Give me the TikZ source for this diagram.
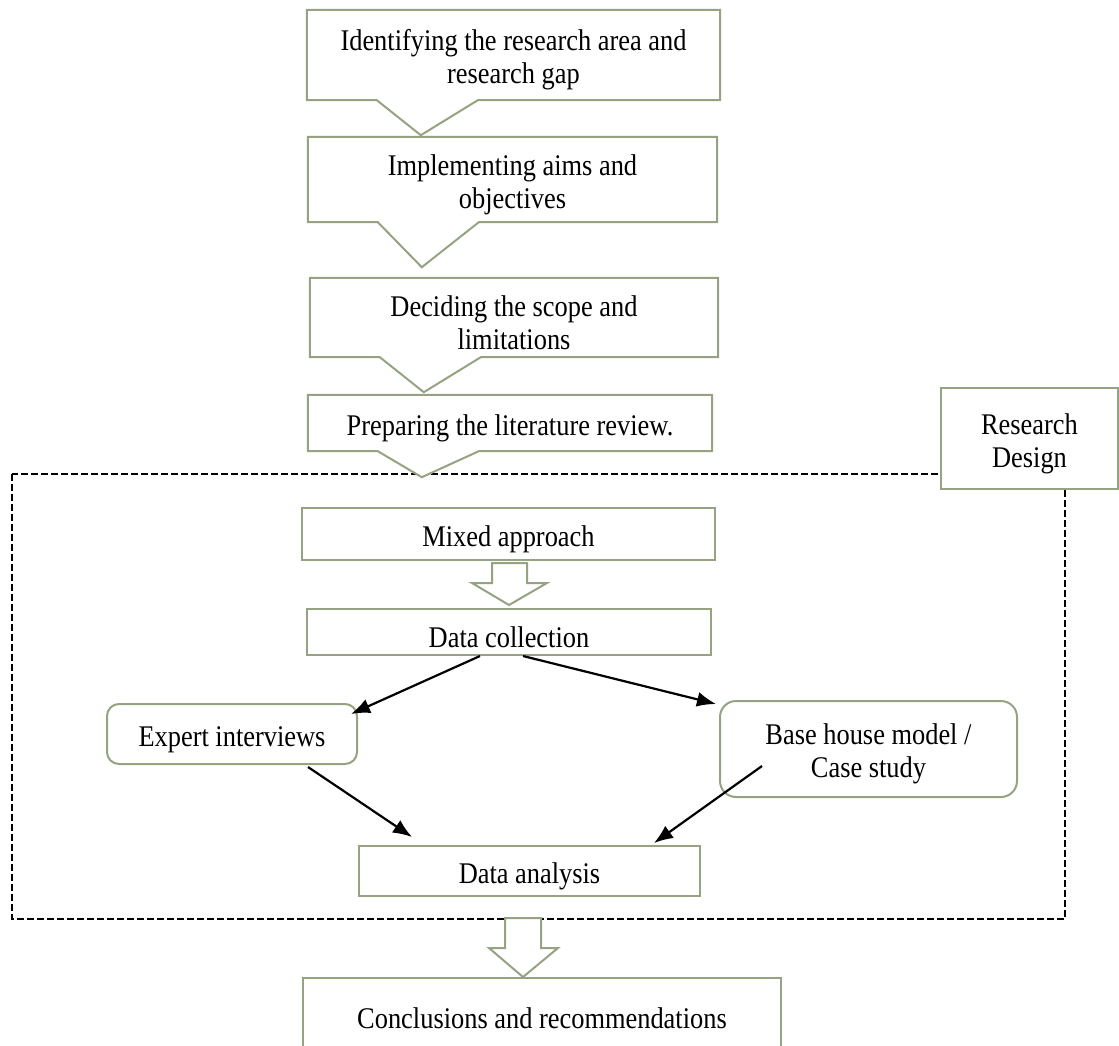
\documentclass[tikz,border=0pt]{standalone}
\usepackage{fontspec}
\setmainfont{Liberation Serif}[FakeStretch = 0.88]
\usetikzlibrary{arrows.meta, backgrounds}

\definecolor{boxline}{RGB}{150,163,130}
\newcommand\boxfont{\fontsize{30}{33}\selectfont}
\newcommand\topstrut{\rule{0pt}{31pt}}

\tikzset{
	stepbox/.style = {inner sep = 0pt, align = center, font = \boxfont, execute at begin node = {\topstrut}},
	plainbox/.style = {stepbox, draw = boxline, line width = 2pt, fill = white},
	roundbox/.style = {plainbox, rounded corners = 12pt},
	stepedge/.style = {draw = boxline, fill = white, line width = 2pt},
	designframe/.style = {draw = black, line width = 2.4pt, dash pattern = on 7pt off 3pt},
	flow/.style = {->, line width = 2.2pt}
}

\begin{document}
\begin{tikzpicture}[x = 1pt, y = -1pt, > = {Latex[length = 19pt, width = 15pt]}]

	\useasboundingbox (0, 0) rectangle (1119, 1045);

	% Preliminary steps
	
	\node [stepbox, minimum width = 413pt, minimum height = 90pt] (ident) at (513.5, 55) {\topstrut Identifying the research area and\\research gap};
	\node [stepbox, minimum width = 409pt, minimum height = 85pt] (implement) at (512.5, 179.5) {\topstrut Implementing aims and\\objectives};
	\node [stepbox, minimum width = 408pt, minimum height = 79pt] (limits) at (514, 317.5) {\topstrut Deciding the scope and\\limitations};
	\node [stepbox, minimum width = 404pt, minimum height = 56pt] (review) at (510, 423) {Preparing the literature review.};
	
	% Research design
	
	\node [plainbox, minimum width = 177pt, minimum height = 101pt] (design) at (1029.5, 438.5) {\topstrut Research\\Design};
	\node [plainbox, minimum width = 413pt, minimum height = 52pt] (mixed) at (508.5, 534) {Mixed approach};
	\node [plainbox, minimum width = 404pt, minimum height = 46pt] (collect) at (509, 632) {Data collection};
	\node [roundbox, minimum width = 250pt, minimum height = 60pt] (expert) at (232, 734) {Expert interviews};
	\node [roundbox, rounded corners = 16pt, minimum width = 297pt, minimum height = 96pt] (base) at (868.5, 749) {\topstrut Base house model /\\Case study};
	\node [plainbox, minimum width = 341pt, minimum height = 50pt] (analysis) at (529.5, 871) {Data analysis};
	
	% Outcome
	
	\node [plainbox, minimum width = 478pt, minimum height = 70pt] (concl) at (542, 1013) {Conclusions and recommendations};
	
	% Block arrows
	
	\filldraw [stepedge] (492, 563) -- (527, 563) -- (527, 583) -- (547, 583) -- (509, 605) -- (472, 583) -- (492, 583) -- cycle;
	\filldraw [stepedge] (505, 918) -- (541, 918) -- (541, 948) -- (558, 948) -- (523, 977) -- (489, 948) -- (505, 948) -- cycle;
	
	% Data flow
	
	\draw [flow] ([xshift = -29pt]collect.south) -- ([xshift = -7pt, yshift = -11pt]expert.north east);
	\draw [flow] ([xshift = 14pt]collect.south) -- ([xshift = -3pt, yshift = -4pt]base.north west);
	\draw [flow] ([xshift = 76pt, yshift = -2pt]expert.south) -- ([xshift = 54pt, yshift = 8pt]analysis.north west);
	\draw [flow] ([xshift = 43pt, yshift = 32pt]base.south west) -- ([xshift = -47pt, yshift = 2pt]analysis.north east);
	
	\begin{scope}[on background layer]
		% Dashed frame
		\draw [designframe] (12, 474) rectangle (1065, 919);
		% Step outlines with pointers
		\foreach \boxname/\drop in {ident/35, implement/45, limits/35, review/26} {
			\filldraw [stepedge] (\boxname.north west) -- (\boxname.north east) -- (\boxname.south east)
				-- ([xshift = 171pt]\boxname.south west) -- ([xshift = 114pt, yshift = -\drop pt]\boxname.south west)
				-- ([xshift = 70pt]\boxname.south west) -- (\boxname.south west) -- cycle;
		}
	\end{scope}
	
\end{tikzpicture}
\end{document}
